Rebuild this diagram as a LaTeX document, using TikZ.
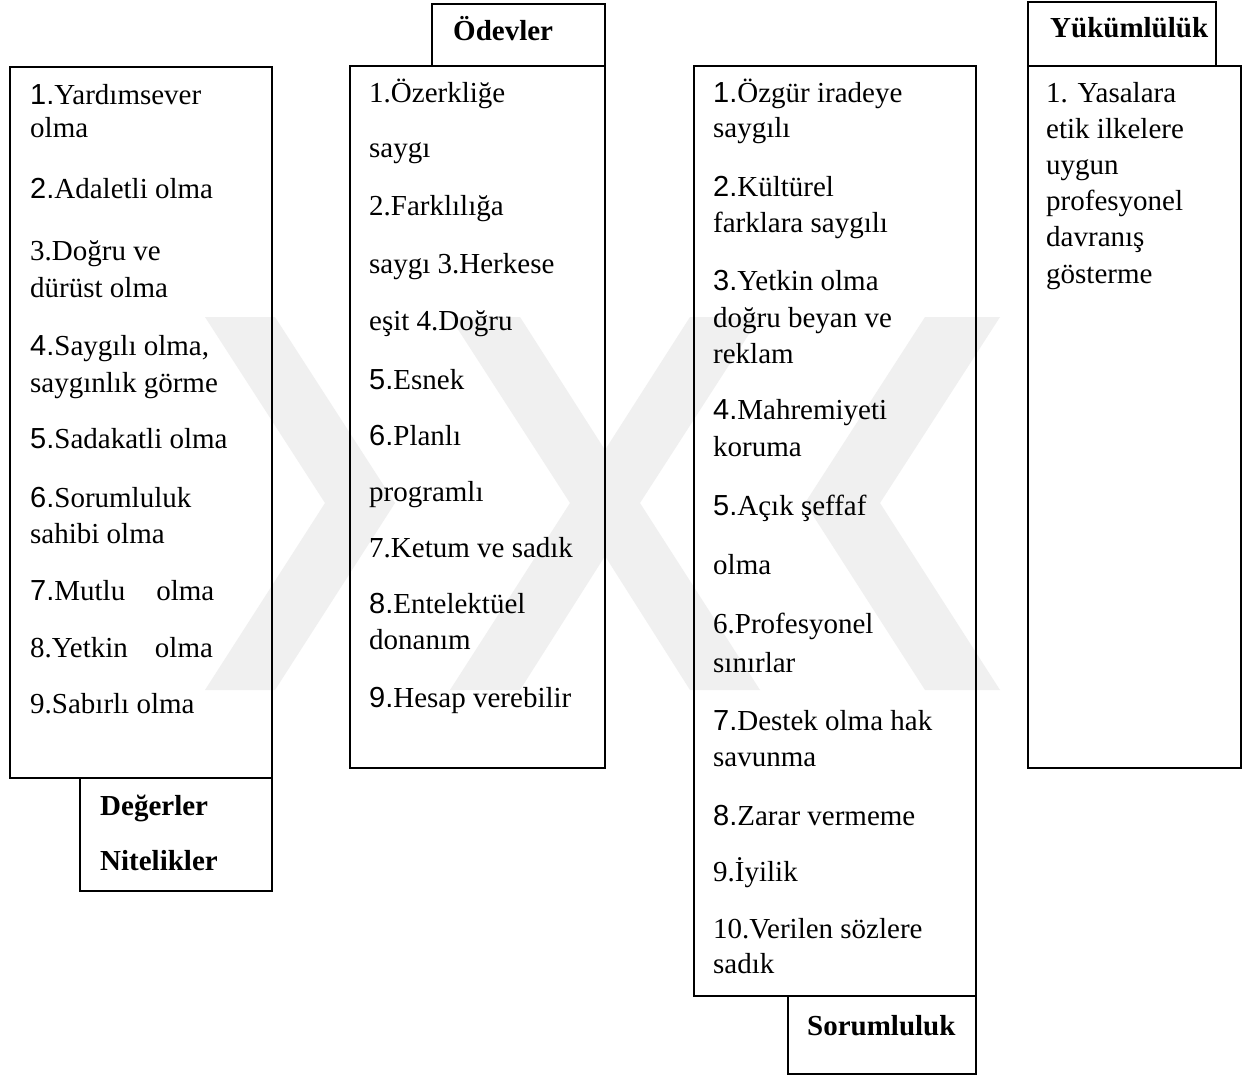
\documentclass[tikz,border=0pt]{standalone}
\usepackage{fontspec}
\setmainfont{Liberation Serif}
\newfontfamily\arialf{Liberation Sans}
\newcommand{\sn}[1]{{\arialf #1}}
\begin{document}
\begin{tikzpicture}[x=1pt,y=-1pt,
  box/.style={draw=black, line width=1.7pt, inner sep=0pt, anchor=north west},
  txt/.style={anchor=base west, inner sep=0pt, font=\fontsize{29}{34}\selectfont},
  lbl/.style={anchor=base west, inner sep=0pt, font=\fontsize{29}{34}\selectfont\bfseries},
  wm/.style={fill=black!6, draw=none}]
\useasboundingbox (0,0) rectangle (1246,1075);
\fill[white] (0,0) rectangle (1246,1075);
% faint watermark
\fill[wm] (205,317) -- (275,317) -- (395,503) -- (275,690) -- (205,690) -- (325,503) -- cycle;
\fill[wm] (450,317) -- (520,317) -- (605,450) -- (690,317) -- (760,317) -- (640,503) -- (760,690) -- (690,690) -- (605,556) -- (520,690) -- (450,690) -- (570,503) -- cycle;
\fill[wm] (925,317) -- (1000,317) -- (880,503) -- (1000,690) -- (925,690) -- (805,503) -- cycle;
% boxes
\node[box, minimum width=262pt, minimum height=711pt] (b1) at (9,66) {};
\node[box, minimum width=192pt, minimum height=113pt] (l1) at (79,777) {};
\node[box, minimum width=255pt, minimum height=702pt] (b2) at (349,65) {};
\node[box, minimum width=173pt, minimum height=62pt] (l2) at (431,3) {};
\node[box, minimum width=282pt, minimum height=930pt] (b3) at (693,65) {};
\node[box, minimum width=188pt, minimum height=78pt] (l3) at (787,995) {};
\node[box, minimum width=213pt, minimum height=702pt] (b4) at (1027,65) {};
\node[box, minimum width=188pt, minimum height=64pt] (l4) at (1027,1) {};
% box 1 text
\node[txt] (a1) at (30,105) {\sn{1.}Yardımsever};
\node[txt] (a1b) at (30,138) {olma};
\node[txt] (a2) at (30,199) {\sn{2.}Adaletli olma};
\node[txt] (a3) at (30,260) {3.Doğru ve};
\node[txt] (a3b) at (30,297) {dürüst olma};
\node[txt] (a4) at (30,355) {\sn{4.}Saygılı olma,};
\node[txt] (a4b) at (30,392) {saygınlık görme};
\node[txt] (a5) at (30,448) {\sn{5.}Sadakatli olma};
\node[txt] (a6) at (30,507) {\sn{6.}Sorumluluk};
\node[txt] (a6b) at (30,543) {sahibi olma};
\node[txt] (a7) at (30,600) {\sn{7.}Mutlu\hspace{31pt}olma};
\node[txt] (a8) at (30,657) {8.Yetkin\hspace{27pt}olma};
\node[txt] (a9) at (30,713) {9.Sabırlı olma};
\node[lbl] (ldeg) at (100,815) {Değerler};
\node[lbl] (lnit) at (100,870) {Nitelikler};
% box 2 text
\node[lbl] (lode) at (453,41) {Ödevler};
\node[txt] (o1) at (369,103) {1.Özerkliğe};
\node[txt] (o1b) at (369,158) {saygı};
\node[txt] (o2) at (369,215) {2.Farklılığa};
\node[txt] (o3) at (369,273) {saygı 3.Herkese};
\node[txt] (o4) at (369,330) {eşit 4.Doğru};
\node[txt] (o5) at (369,389) {\sn{5.}Esnek};
\node[txt] (o6) at (369,445) {\sn{6.}Planlı};
\node[txt] (o6b) at (369,501) {programlı};
\node[txt] (o7) at (369,557) {7.Ketum ve sadık};
\node[txt] (o8) at (369,613) {\sn{8.}Entelektüel};
\node[txt] (o8b) at (369,649) {donanım};
\node[txt] (o9) at (369,707) {\sn{9.}Hesap verebilir};
% box 3 text
\node[txt] (s1) at (713,103) {\sn{1.}Özgür iradeye};
\node[txt] (s1b) at (713,138) {saygılı};
\node[txt] (s2) at (713,197) {\sn{2.}Kültürel};
\node[txt] (s2b) at (713,233) {farklara saygılı};
\node[txt] (s3) at (713,290) {\sn{3.}Yetkin olma};
\node[txt] (s3b) at (713,327) {doğru beyan ve};
\node[txt] (s3c) at (713,363) {reklam};
\node[txt] (s4) at (713,419) {\sn{4.}Mahremiyeti};
\node[txt] (s4b) at (713,456) {koruma};
\node[txt] (s5) at (713,515) {\sn{5.}Açık şeffaf};
\node[txt] (s5b) at (713,574) {olma};
\node[txt] (s6) at (713,633) {6.Profesyonel};
\node[txt] (s6b) at (713,672) {sınırlar};
\node[txt] (s7) at (713,730) {\sn{7.}Destek olma hak};
\node[txt] (s7b) at (713,766) {savunma};
\node[txt] (s8) at (713,825) {\sn{8.}Zarar vermeme};
\node[txt] (s9) at (713,881) {9.İyilik};
\node[txt] (s10) at (713,938) {10.Verilen sözlere};
\node[txt] (s10b) at (713,973) {sadık};
\node[lbl] (lsor) at (807,1035) {Sorumluluk};
% box 4 text
\node[lbl] (lyuk) at (1050,38) {Yükümlülük};
\node[txt] (y1) at (1046,103) {1. Yasalara};
\node[txt] (y2) at (1046,139) {etik ilkelere};
\node[txt] (y3) at (1046,175) {uygun};
\node[txt] (y4) at (1046,211) {profesyonel};
\node[txt] (y5) at (1046,247) {davranış};
\node[txt] (y6) at (1046,283) {gösterme};
\end{tikzpicture}
\end{document}
